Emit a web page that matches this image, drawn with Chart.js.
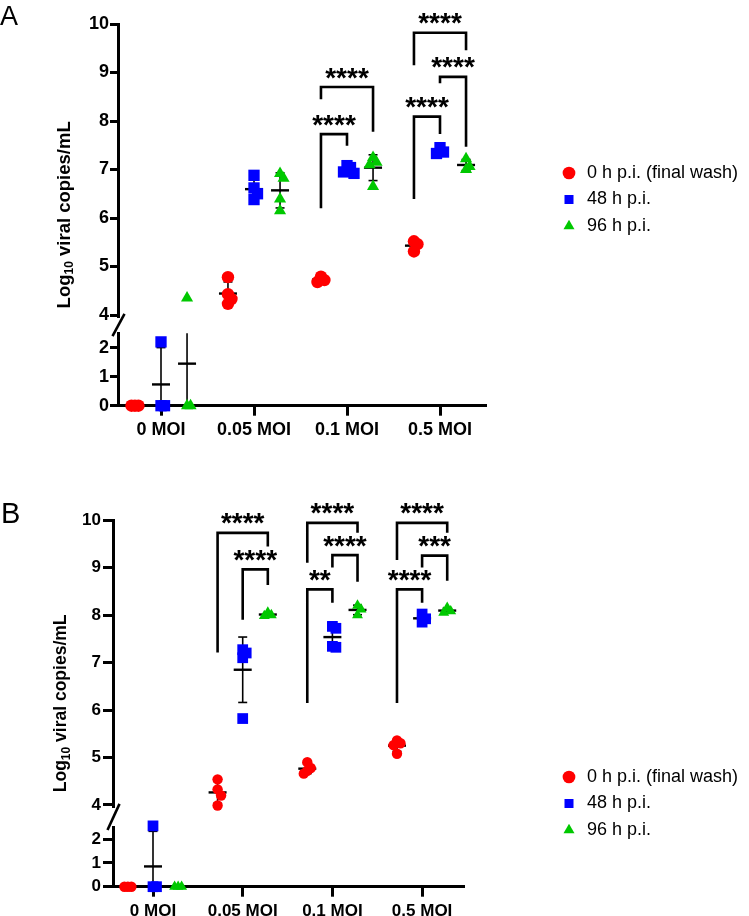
<!DOCTYPE html>
<html><head><meta charset="utf-8">
<script src="https://cdn.jsdelivr.net/npm/chart.js@4.4.0/dist/chart.umd.min.js"></script>
<style>
html,body{margin:0;padding:0;background:#fff;}
#wrap{position:relative;width:749px;height:916px;overflow:hidden;}
canvas{position:absolute;left:0;}
</style></head><body>
<div id="wrap">
<canvas id="cA" width="749" height="458" style="top:0px"></canvas>
<canvas id="cB" width="749" height="458" style="top:458px"></canvas>
</div>
<script>
// ---------------- data ----------------
const xLabels = ['0 MOI', '0.05 MOI', '0.1 MOI', '0.5 MOI'];
const seriesNames = ['0 h p.i. (final wash)', '48 h p.i.', '96 h p.i.'];
const yTicksUpper = [4, 5, 6, 7, 8, 9, 10];
const yTicksLower = [0, 1, 2];

// Panel A: log10 viral copies/mL, one list per MOI group
const a_0h  = [[0, 0, 0], [4.78, 4.43, 4.33, 4.23], [4.79, 4.72, 4.68], [5.52, 5.46, 5.31]];
const a_48h = [[0, 0, 2.2], [6.88, 6.62, 6.50, 6.38], [7.08, 7.04, 6.95, 6.92], [7.45, 7.36, 7.33]];
const a_96h = [[0, 0, 4.35], [6.92, 6.82, 6.39, 6.15], [7.25, 7.15, 7.10, 6.65], [7.22, 7.06, 7.00]];

// Panel B
const b_0h  = [[0, 0, 0], [4.54, 4.33, 4.20, 3.99], [4.90, 4.78, 4.72, 4.66], [5.36, 5.30, 5.26, 5.08]];
const b_48h = [[0, 0, 2.55], [7.27, 7.20, 7.10, 5.82], [7.76, 7.72, 7.34, 7.32], [8.02, 7.92, 7.85]];
const b_96h = [[0, 0, 0], [8.05, 8.00, 7.98], [8.20, 8.12, 8.00], [8.15, 8.08, 8.05]];

// significance brackets: [group, fromSeries, toSeries, leftLegEnd, top, rightLegEnd, label]
const a_sig = [
  [2, 0, 1, 6.20, 7.73, 7.49, '****'],
  [2, 0, 2, 8.45, 8.70, 7.78, '****'],
  [3, 0, 1, 6.39, 8.09, 7.73, '****'],
  [3, 1, 2, 8.78, 8.91, 7.47, '****'],
  [3, 0, 2, 9.15, 9.82, 9.46, '****']
];
const b_sig = [
  [1, 0, 2, 7.21, 9.73, 9.44, '****'],
  [1, 1, 2, 7.90, 8.96, 8.63, '****'],
  [2, 0, 1, 6.15, 8.54, 8.26, '**'],
  [2, 1, 2, 9.00, 9.26, 8.70, '****'],
  [2, 0, 2, 9.10, 9.94, 9.73, '****'],
  [3, 0, 1, 6.15, 8.54, 8.26, '****'],
  [3, 1, 2, 9.00, 9.25, 8.72, '***'],
  [3, 0, 2, 9.16, 9.94, 9.73, '****']
];

// ---------------- styles / layout ----------------
const FONT = '"Liberation Sans", Arial, Helvetica, sans-serif';
const COLORS = ['#ff0000', '#0000ff', '#00c800'];
const STYLES = ['circle', 'rect', 'triangle'];
const SER_OFF = [-0.28, 0, 0.28];
const UP_MIN = 3.96, UP_MAX = 10, LOW_MAX = 2.5, UP_VIS_MIN = 4.0, BREAK = 3;

const panels = [
  { id: 'cA', letter: 'A', letterSize: 27, letterX: 0, letterY: 25,
    series: [a_0h, a_48h, a_96h], sig: a_sig,
    left: 118, right: 485, top: 24, bottom: 405.7, canvasH: 458,
    firstTick: 161, tickSpacing: 93, pxU: 48.5, pxL: 29,
    font: 18, titleFont: 18.5, tickFont: 18, yTickLen: 8, yTickPad: 1,
    radii: [6.2, 8, 7], legX: 560, legRow: 173, legFont: 18,
    titleDX: 55 },
  { id: 'cB', letter: 'B', letterSize: 29, letterX: 1, letterY: 65,
    series: [b_0h, b_48h, b_96h], sig: b_sig,
    left: 113, right: 463, top: 62, bottom: 428.7, canvasH: 458,
    firstTick: 153, tickSpacing: 89.7, pxU: 47.5, pxL: 23.85,
    font: 17, titleFont: 17.5, tickFont: 17, yTickLen: 10, yTickPad: 2,
    radii: [5.2, 7.6, 6.3], legX: 560, legRow: 319, legFont: 18,
    titleDX: 53 }
];

function swarm(vals, P, thr, step) {
  const placed = [];
  const cands = [0, 1, -1, 2, -2, 3, -3];
  return vals.map(v => {
    const y = v >= BREAK ? 10000 + v * P.pxU : v * P.pxL;
    for (const c of cands) {
      if (!placed.some(p => p.slot === c && Math.abs(p.y - y) < thr)) {
        placed.push({ y, slot: c });
        return c * step;
      }
    }
    return 0;
  });
}

function buildDatasets(P) {
  const ds = [];
  P.series.forEach((groups, s) => {
    const up = [], low = [];
    groups.forEach((vals, g) => {
      const offs = swarm(vals, P, 8, 3.5);
      vals.forEach((v, i) => {
        const pt = { x: g + SER_OFF[s] + offs[i] / P.tickSpacing, y: v };
        (v >= BREAK ? up : low).push(pt);
      });
    });
    const st = {
      showLine: false, clip: false,
      backgroundColor: COLORS[s], borderColor: COLORS[s],
      pointBackgroundColor: COLORS[s], pointBorderColor: COLORS[s],
      pointBorderWidth: 0, borderWidth: 0,
      pointStyle: STYLES[s], pointRadius: P.radii[s], pointHoverRadius: P.radii[s]
    };
    ds.push(Object.assign({ label: seriesNames[s], data: up, yAxisID: 'yUp' }, st));
    ds.push(Object.assign({ label: seriesNames[s], data: low, yAxisID: 'yLow' }, st));
  });
  return ds;
}

function line(ctx, x1, y1, x2, y2) {
  ctx.beginPath(); ctx.moveTo(x1, y1); ctx.lineTo(x2, y2); ctx.stroke();
}

function makePlugin(P) {
  return {
    id: 'panelDeco' + P.letter,
    beforeLayout(chart) {
      const lg = chart.legend;
      if (lg && !lg._fixed) {
        const orig = lg.fit;
        lg.fit = function () { orig.call(this); this.width = 749 - P.right; };
        lg._fixed = true;
      }
    },
    afterLayout(chart) {
      const lg = chart.legend;
      if (!lg) return;
      const pad = lg.options.labels.padding;
      const fs = P.legFont;
      lg.left = P.legX - pad; lg.right = 749;
      lg.top = P.legRow - fs / 2 - pad; lg.bottom = lg.top + 250;
    },
    beforeDatasetsDraw(chart) {
      const ctx = chart.ctx, xs = chart.scales.x, yu = chart.scales.yUp, yl = chart.scales.yLow;
      const inSeg = v => (v >= 0 && v <= LOW_MAX) ? yl : ((v >= UP_VIS_MIN && v <= UP_MAX) ? yu : null);
      ctx.save();
      ctx.strokeStyle = '#000';
      ctx.lineCap = 'butt';
      P.series.forEach((groups, s) => groups.forEach((vals, g) => {
        const n = vals.length;
        const mean = vals.reduce((a, b) => a + b, 0) / n;
        const sd = n > 1 ? Math.sqrt(vals.reduce((a, b) => a + (b - mean) * (b - mean), 0) / (n - 1)) : 0;
        const lo = mean - sd, hi = mean + sd;
        const px = xs.getPixelForValue(g + SER_OFF[s]);
        ctx.lineWidth = 1.6;
        if (sd > 0) {
          for (const [sc, a, b] of [[yl, 0, LOW_MAX], [yu, UP_VIS_MIN, UP_MAX]]) {
            const s0 = Math.max(lo, a), s1 = Math.min(hi, b);
            if (s1 > s0) line(ctx, px, sc.getPixelForValue(s0), px, sc.getPixelForValue(s1));
          }
          for (const v of [lo, hi]) {
            const sc = inSeg(v);
            if (sc && v > 0) { const y = sc.getPixelForValue(v); line(ctx, px - 4.5, y, px + 4.5, y); }
          }
        }
        const scm = inSeg(mean);
        if (scm) {
          ctx.lineWidth = 2.4;
          const y = scm.getPixelForValue(mean);
          line(ctx, px - 9, y, px + 9, y);
        }
      }));
      ctx.restore();
    },
    afterDraw(chart) {
      const ctx = chart.ctx, xs = chart.scales.x, yu = chart.scales.yUp, yl = chart.scales.yLow;
      const area = chart.chartArea;
      ctx.save();
      // significance brackets
      ctx.strokeStyle = '#000'; ctx.fillStyle = '#000';
      ctx.lineWidth = 2.6; ctx.lineJoin = 'miter'; ctx.lineCap = 'butt';
      const aFont = 'bold 28px ' + FONT;
      ctx.font = aFont;
      const m = ctx.measureText('*');
      const starMid = (m.actualBoundingBoxAscent - m.actualBoundingBoxDescent) / 2;
      P.sig.forEach(([g, a, b, yl1, ytop, yr1, label]) => {
        const xL = xs.getPixelForValue(g + SER_OFF[a]);
        const xR = xs.getPixelForValue(g + SER_OFF[b]);
        const yT = yu.getPixelForValue(ytop);
        ctx.beginPath();
        ctx.moveTo(xL, yu.getPixelForValue(yl1));
        ctx.lineTo(xL, yT);
        ctx.lineTo(xR, yT);
        ctx.lineTo(xR, yu.getPixelForValue(yr1));
        ctx.stroke();
        ctx.textAlign = 'center'; ctx.textBaseline = 'alphabetic';
        ctx.fillText(label, (xL + xR) / 2, yT - 14 + starMid);
      });
      // axis break mark
      const gTop = yu.bottom, gBot = yl.top, L = area.left + 0.5;
      ctx.lineWidth = 2.6;
      line(ctx, L - 6, gBot + 3, L + 6, gTop - 3);
      // y-axis title with subscript
      const fs = P.titleFont;
      const cx = area.left - P.titleDX, cy = (area.top + area.bottom) / 2;
      const fMain = 'bold ' + fs + 'px ' + FONT, fSub = 'bold ' + Math.round(fs * 0.66) + 'px ' + FONT;
      ctx.font = fMain; const w1 = ctx.measureText('Log').width; const w3 = ctx.measureText(' viral copies/mL').width;
      ctx.font = fSub; const w2 = ctx.measureText('10').width;
      const tot = w1 + w2 + w3;
      ctx.translate(cx, cy); ctx.rotate(-Math.PI / 2);
      ctx.textAlign = 'left'; ctx.textBaseline = 'alphabetic';
      const base = 0.36 * fs;
      let x0 = -tot / 2;
      ctx.font = fMain; ctx.fillText('Log', x0, base); x0 += w1;
      ctx.font = fSub; ctx.fillText('10', x0, base + 0.2 * fs); x0 += w2;
      ctx.font = fMain; ctx.fillText(' viral copies/mL', x0, base);
      ctx.setTransform(1, 0, 0, 1, 0, 0);
      // panel letter
      ctx.font = P.letterSize + 'px ' + FONT;
      ctx.textAlign = 'left'; ctx.textBaseline = 'alphabetic';
      ctx.fillText(P.letter, P.letterX, P.letterY);
      ctx.restore();
    }
  };
}

function makeChart(P) {
  const upH = (UP_MAX - UP_MIN) * P.pxU;
  const lowH = LOW_MAX * P.pxL;
  const gapH = (P.bottom - P.top) - upH - lowH;
  const xMin = (P.left - P.firstTick) / P.tickSpacing;
  const xMax = (P.right - P.firstTick) / P.tickSpacing;
  const tickFont = { family: FONT, weight: 'bold', size: P.tickFont };
  const yCommon = (ticksArr) => ({
    type: 'linear', position: 'left', stack: 'v', bounds: 'data',
    afterBuildTicks: sc => { sc.ticks = ticksArr.map(v => ({ value: v })); },
    afterFit: sc => { sc.width = P.left; },
    ticks: { color: '#000', font: tickFont, padding: P.yTickPad, autoSkip: false },
    grid: { display: true, drawOnChartArea: false, drawTicks: true, color: '#000', lineWidth: 3, tickLength: P.yTickLen },
    border: { display: true, color: '#000', width: 3 }
  });
  // left-side stacked scales are placed in reverse order: lowest segment first
  const scales = {
    x: {
      type: 'linear', position: 'bottom', min: xMin, max: xMax, bounds: 'data',
      afterBuildTicks: sc => { sc.ticks = xLabels.map((_, i) => ({ value: i })); },
      afterFit: sc => { sc.height = P.canvasH - P.bottom; },
      ticks: { callback: (v, i) => xLabels[i], autoSkip: false, maxRotation: 0, minRotation: 0,
               padding: 4, color: '#000', font: { family: FONT, weight: 'bold', size: P.font } },
      grid: { display: true, drawOnChartArea: false, drawTicks: true, color: '#000', lineWidth: 3, tickLength: 10 },
      border: { display: true, color: '#000', width: 3 }
    },
    yLow: Object.assign(yCommon(yTicksLower), { min: 0, max: LOW_MAX, stackWeight: lowH }),
    yGap: { type: 'linear', position: 'left', stack: 'v', stackWeight: gapH, min: 0, max: 1,
            afterFit: sc => { sc.width = P.left; },
            ticks: { display: false }, grid: { display: false }, border: { display: false } },
    yUp: Object.assign(yCommon(yTicksUpper), { min: UP_MIN, max: UP_MAX, stackWeight: upH })
  };
  return new Chart(document.getElementById(P.id), {
    type: 'scatter',
    data: { datasets: buildDatasets(P) },
    options: {
      responsive: false, animation: false, devicePixelRatio: 1, events: [],
      layout: { padding: { top: P.top, left: 0, right: 0, bottom: 0 } },
      scales: scales,
      plugins: {
        tooltip: { enabled: false },
        legend: {
          display: true, position: 'right', align: 'start',
          labels: {
            usePointStyle: true, boxWidth: 18, boxHeight: 9, padding: 8.5, color: '#000',
            font: { family: FONT, size: P.legFont, weight: 'normal' },
            filter: item => item.datasetIndex % 2 === 0
          }
        }
      }
    },
    plugins: [makePlugin(P)]
  });
}

panels.forEach(makeChart);
</script>
</body></html>
